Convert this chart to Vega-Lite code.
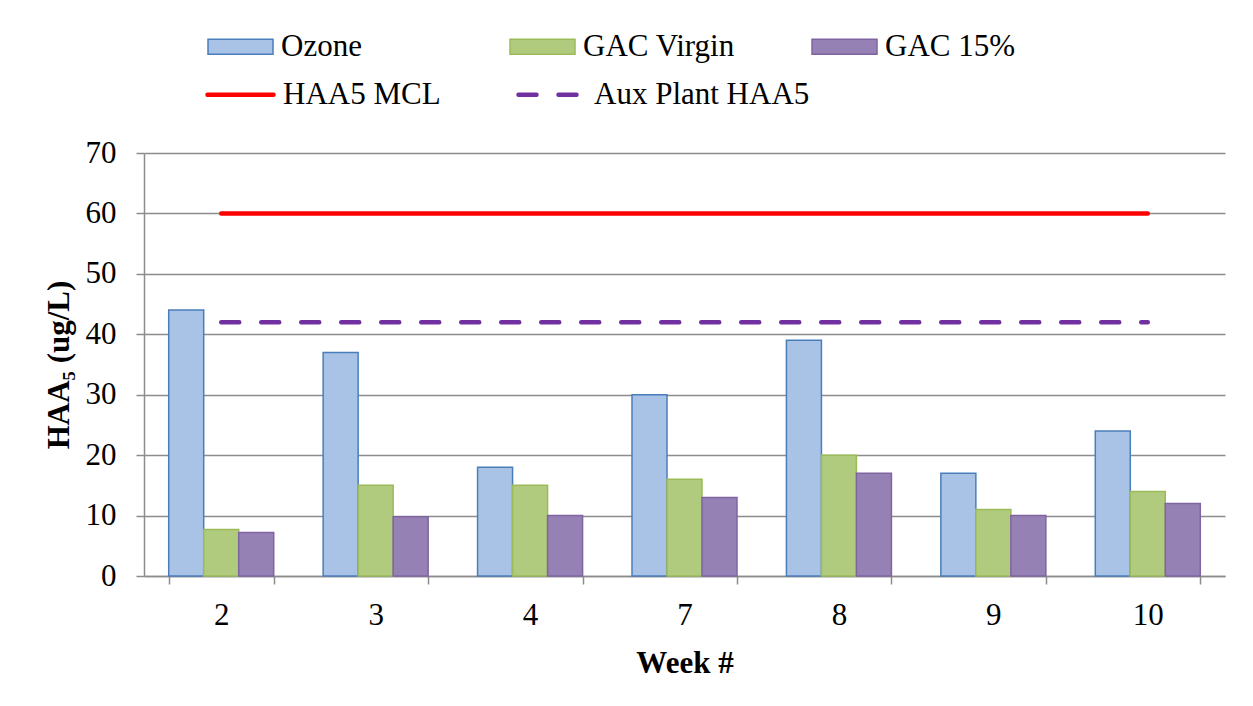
{
  "$schema": "https://vega.github.io/schema/vega-lite/v6.json",
  "width": 1081,
  "height": 423,
  "autosize": {"type": "none"},
  "padding": {"left": 144, "top": 153, "right": 28, "bottom": 130},
  "background": "white",
  "config": {
    "font": "Liberation Serif",
    "view": {"stroke": null},
    "axis": {
      "labelFont": "Liberation Serif",
      "titleFont": "Liberation Serif",
      "labelFontSize": 31,
      "titleFontSize": 31,
      "labelColor": "black",
      "titleColor": "black",
      "domainColor": "#8c8c8c",
      "tickColor": "#8c8c8c",
      "gridColor": "#8c8c8c",
      "domainWidth": 1.5,
      "tickWidth": 1.5,
      "gridWidth": 1.5,
      "tickSize": 8
    },
    "legend": {
      "labelFont": "Liberation Serif",
      "labelFontSize": 31,
      "labelColor": "black",
      "padding": 0,
      "labelLimit": 400
    }
  },
  "datasets": {
    "bars": [
      {"week": 2, "series": "Ozone", "haa5": 44},
      {"week": 2, "series": "GAC Virgin", "haa5": 7.7},
      {"week": 2, "series": "GAC 15%", "haa5": 7.2},
      {"week": 3, "series": "Ozone", "haa5": 37},
      {"week": 3, "series": "GAC Virgin", "haa5": 15},
      {"week": 3, "series": "GAC 15%", "haa5": 9.8},
      {"week": 4, "series": "Ozone", "haa5": 18},
      {"week": 4, "series": "GAC Virgin", "haa5": 15},
      {"week": 4, "series": "GAC 15%", "haa5": 10},
      {"week": 7, "series": "Ozone", "haa5": 30},
      {"week": 7, "series": "GAC Virgin", "haa5": 16},
      {"week": 7, "series": "GAC 15%", "haa5": 13},
      {"week": 8, "series": "Ozone", "haa5": 39},
      {"week": 8, "series": "GAC Virgin", "haa5": 20},
      {"week": 8, "series": "GAC 15%", "haa5": 17},
      {"week": 9, "series": "Ozone", "haa5": 17},
      {"week": 9, "series": "GAC Virgin", "haa5": 11},
      {"week": 9, "series": "GAC 15%", "haa5": 10},
      {"week": 10, "series": "Ozone", "haa5": 24},
      {"week": 10, "series": "GAC Virgin", "haa5": 14},
      {"week": 10, "series": "GAC 15%", "haa5": 12}
    ],
    "limits": [
      {"week": 2, "line": "HAA5 MCL", "haa5": 60},
      {"week": 3, "line": "HAA5 MCL", "haa5": 60},
      {"week": 4, "line": "HAA5 MCL", "haa5": 60},
      {"week": 7, "line": "HAA5 MCL", "haa5": 60},
      {"week": 8, "line": "HAA5 MCL", "haa5": 60},
      {"week": 9, "line": "HAA5 MCL", "haa5": 60},
      {"week": 10, "line": "HAA5 MCL", "haa5": 60},
      {"week": 2, "line": "Aux Plant HAA5", "haa5": 42},
      {"week": 3, "line": "Aux Plant HAA5", "haa5": 42},
      {"week": 4, "line": "Aux Plant HAA5", "haa5": 42},
      {"week": 7, "line": "Aux Plant HAA5", "haa5": 42},
      {"week": 8, "line": "Aux Plant HAA5", "haa5": 42},
      {"week": 9, "line": "Aux Plant HAA5", "haa5": 42},
      {"week": 10, "line": "Aux Plant HAA5", "haa5": 42}
    ]
  },
  "layer": [
    {
      "data": {"name": "bars"},
      "mark": {"type": "bar", "strokeWidth": 1.5},
      "encoding": {
        "x": {
          "field": "week",
          "type": "ordinal",
          "scale": {"paddingInner": 0.32, "paddingOuter": 0.16},
          "axis": {
            "title": "Week #",
            "titleFont": "Liberation Serif",
            "titleFontWeight": "bold",
            "titlePadding": 18,
            "labelFont": "Liberation Serif",
            "labelAngle": 0,
            "labelPadding": 16,
            "tickBand": "extent",
            "grid": false
          }
        },
        "xOffset": {
          "field": "series",
          "type": "nominal",
          "sort": ["Ozone", "GAC Virgin", "GAC 15%"],
          "scale": {"paddingInner": 0, "paddingOuter": 0}
        },
        "y": {
          "field": "haa5",
          "type": "quantitative",
          "scale": {"domain": [0, 70], "nice": false},
          "axis": {
            "title": "HAA₅ (ug/L)",
            "titleFont": "Liberation Serif",
            "titleFontWeight": "bold",
            "titlePadding": 10,
            "labelFont": "Liberation Serif",
            "values": [0, 10, 20, 30, 40, 50, 60, 70],
            "labelPadding": 20,
            "grid": true
          }
        },
        "fill": {
          "field": "series",
          "type": "nominal",
          "scale": {
            "domain": ["Ozone", "GAC Virgin", "GAC 15%"],
            "range": ["#a9c3e7", "#b0ca7e", "#9681b4"]
          },
          "legend": {
            "title": null,
            "orient": "none",
            "legendX": 63,
            "legendY": -140,
            "direction": "horizontal",
            "columns": 3,
            "gridAlign": "all",
            "columnPadding": 74,
            "symbolType": "M-1,-0.23H1V0.23H-1Z",
            "symbolSize": 4225,
            "symbolStrokeWidth": 1.5,
            "labelOffset": 7,
            "labelFont": "Liberation Serif",
            "labelFontSize": 31
          }
        },
        "stroke": {
          "field": "series",
          "type": "nominal",
          "scale": {
            "domain": ["Ozone", "GAC Virgin", "GAC 15%"],
            "range": ["#4a7ebb", "#9bbb59", "#8064a2"]
          },
          "legend": {
            "title": null,
            "orient": "none",
            "legendX": 63,
            "legendY": -140,
            "direction": "horizontal",
            "columns": 3,
            "gridAlign": "all",
            "columnPadding": 74,
            "symbolType": "M-1,-0.23H1V0.23H-1Z",
            "symbolSize": 4225,
            "symbolStrokeWidth": 1.5,
            "labelOffset": 7,
            "labelFont": "Liberation Serif",
            "labelFontSize": 31
          }
        }
      }
    },
    {
      "data": {"name": "limits"},
      "mark": {"type": "line", "strokeWidth": 4.5, "strokeCap": "round"},
      "encoding": {
        "x": {"field": "week", "type": "ordinal"},
        "y": {"field": "haa5", "type": "quantitative"},
        "color": {
          "field": "line",
          "type": "nominal",
          "scale": {
            "domain": ["HAA5 MCL", "Aux Plant HAA5"],
            "range": ["#ff0000", "#7030a0"]
          },
          "legend": {
            "title": null,
            "orient": "none",
            "legendX": 61,
            "legendY": -94,
            "direction": "horizontal",
            "columns": 2,
            "gridAlign": "all",
            "columnPadding": 10,
            "symbolType": "stroke",
            "symbolSize": 4356,
            "symbolStrokeWidth": 4.5,
            "labelOffset": 7,
            "labelFont": "Liberation Serif",
            "labelFontSize": 31,
            "encode": {"symbols": {"update": {"strokeCap": {"value": "round"}}}}
          }
        },
        "strokeDash": {
          "field": "line",
          "type": "nominal",
          "scale": {
            "domain": ["HAA5 MCL", "Aux Plant HAA5"],
            "range": [[1, 0], [18, 22]]
          },
          "legend": {
            "title": null,
            "orient": "none",
            "legendX": 61,
            "legendY": -94,
            "direction": "horizontal",
            "columns": 2,
            "gridAlign": "all",
            "columnPadding": 10,
            "symbolType": "stroke",
            "symbolSize": 4356,
            "symbolStrokeWidth": 4.5,
            "labelOffset": 7,
            "labelFont": "Liberation Serif",
            "labelFontSize": 31,
            "encode": {"symbols": {"update": {"strokeCap": {"value": "round"}}}}
          }
        }
      }
    }
  ]
}
